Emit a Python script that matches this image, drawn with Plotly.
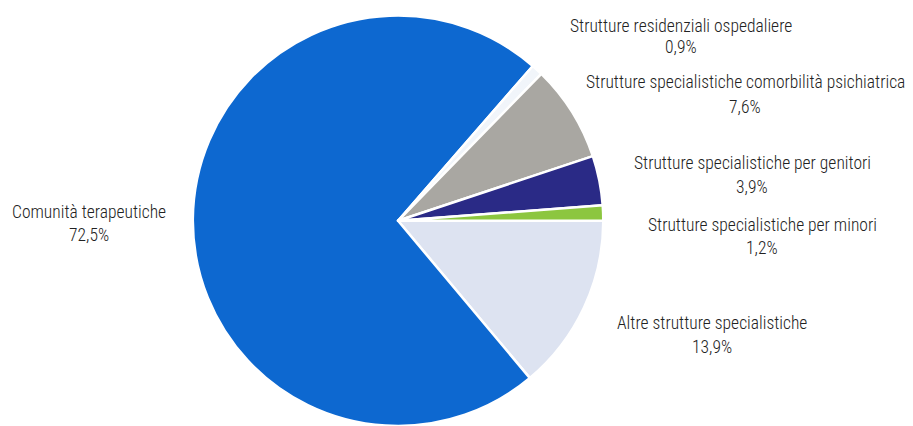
import plotly.graph_objects as go

# Data
categories = [
    "Altre strutture specialistiche",
    "Comunità terapeutiche",
    "Strutture residenziali ospedaliere",
    "Strutture specialistiche comorbilità psichiatrica",
    "Strutture specialistiche per genitori",
    "Strutture specialistiche per minori",
]
values = [13.9, 72.5, 0.9, 7.6, 3.9, 1.2]

# Styles
colors = ["#dde3f1", "#0d68d0", "#f1f5fa", "#a9a7a2", "#2a2a86", "#8cc63f"]

# label placement in window pixels (x centre, y of name line, y of value line)
label_pos = {
    "Altre strutture specialistiche": (712, 323, 347),
    "Comunità terapeutiche": (89, 212, 235),
    "Strutture residenziali ospedaliere": (681, 26, 47),
    "Strutture specialistiche comorbilità psichiatrica": (745, 82, 107),
    "Strutture specialistiche per genitori": (752, 163, 187),
    "Strutture specialistiche per minori": (762, 225, 248),
}

OFF = 8  # default page body margin
W, H = 913 - OFF, 426 - OFF
FONT = "Roboto Condensed, Roboto, sans-serif"

fig = go.Figure(
    go.Pie(
        labels=categories,
        values=values,
        sort=False,
        direction="clockwise",
        rotation=90,
        marker=dict(colors=colors, line=dict(color="white", width=2.5)),
        textinfo="none",
        hoverinfo="label+percent",
        showlegend=False,
        domain=dict(x=[0.2030, 0.6590], y=[0.0, 0.982]),
    )
)

annotations = []
for cat, val in zip(categories, values):
    px, py1, py2 = label_pos[cat]
    pct = f"{val:.1f}".replace(".", ",") + "%"
    for txt, py in ((cat, py1), (pct, py2)):
        annotations.append(
            dict(
                x=(px - OFF) / W,
                y=1 - (py - OFF) / H,
                xref="paper",
                yref="paper",
                text=txt,
                showarrow=False,
                xanchor="center",
                yanchor="middle",
                font=dict(family=FONT, size=17.5, color="#222222", weight=300),
            )
        )

fig.update_layout(
    width=W,
    height=H,
    margin=dict(l=0, r=0, t=0, b=0),
    paper_bgcolor="white",
    plot_bgcolor="white",
    annotations=annotations,
)

fig.write_html("out.html")
